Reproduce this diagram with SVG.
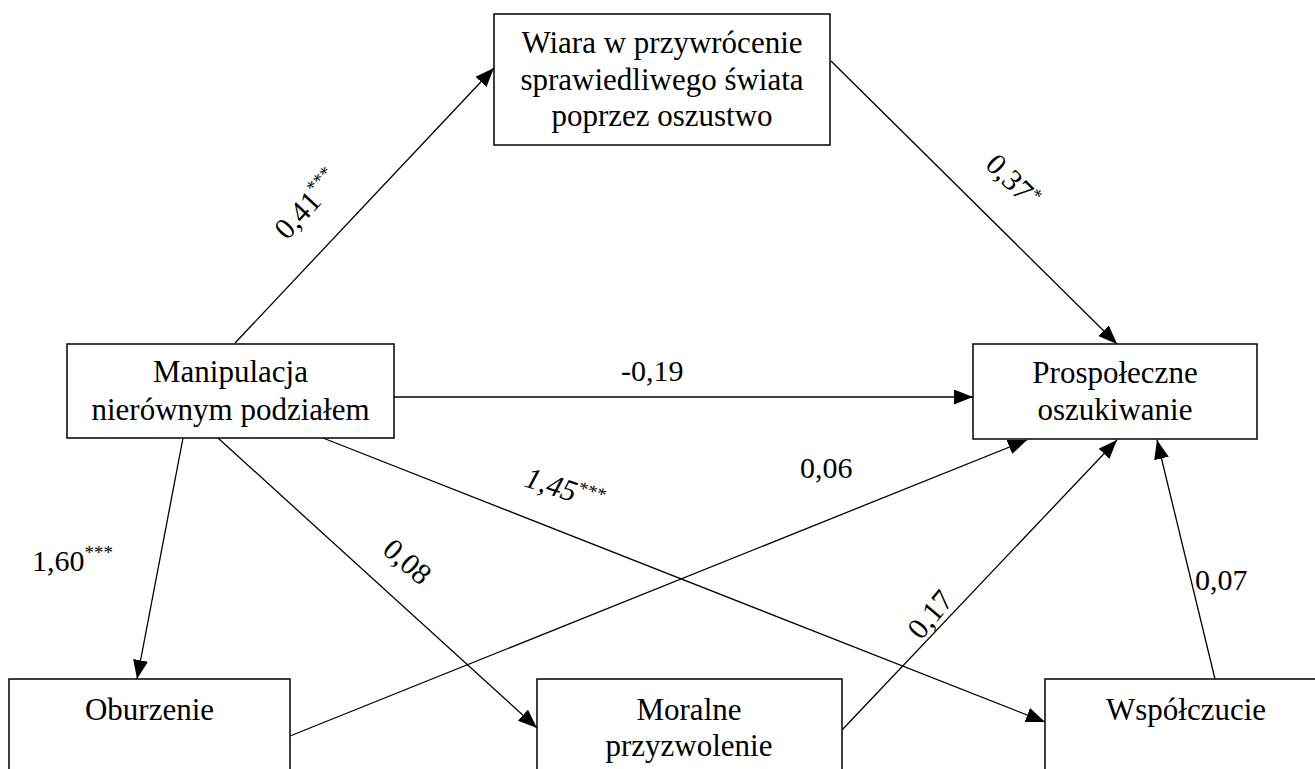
<svg xmlns="http://www.w3.org/2000/svg" width="1315" height="769" viewBox="0 0 1315 769" font-family="'Liberation Serif', 'Times New Roman', Times, serif">
<style>
text{font-family:'Liberation Serif','Times New Roman',Times,serif;fill:#000}
.box{fill:#fff;stroke:#000;stroke-width:1.5}
.nt{font-size:31px;text-anchor:middle}
.lb{font-size:30px}
.it{font-style:italic}
.sup{font-size:19px}
.cn{stroke:#000;stroke-width:1.3;fill:none;marker-end:url(#ah)}
</style>
<defs>
<marker id="ah" markerUnits="userSpaceOnUse" markerWidth="20" markerHeight="16" refX="19" refY="7.5" orient="auto">
<path d="M0,0 L19,7.5 L0,15 z" fill="#000"/>
</marker>
</defs>
<rect width="1315" height="769" fill="#fff"/>
<g id="connectors">
<line class="cn" x1="235" y1="343" x2="494" y2="68"/>
<line class="cn" x1="831" y1="61" x2="1117" y2="344"/>
<line class="cn" x1="394" y1="397" x2="973" y2="397"/>
<line class="cn" x1="183" y1="438" x2="137" y2="679"/>
<line class="cn" x1="218" y1="438" x2="537" y2="728"/>
<line class="cn" x1="323" y1="438" x2="1045" y2="722"/>
<line class="cn" x1="290" y1="736" x2="1027" y2="440"/>
<line class="cn" x1="842" y1="730" x2="1117" y2="440"/>
<line class="cn" x1="1215" y1="679" x2="1157" y2="440"/>
</g>
<g id="labels">
<text class="lb" font-family="Liberation Serif, serif" transform="translate(287,241) rotate(-47)">0,41<tspan class="sup" dy="-12">***</tspan></text>
<text class="lb" font-family="Liberation Serif, serif" transform="translate(984,166) rotate(45)">0,37<tspan class="sup" dy="-10">*</tspan></text>
<text class="lb" font-family="Liberation Serif, serif" x="621" y="381">-0,19</text>
<text class="lb" font-family="Liberation Serif, serif" x="32" y="571">1,60<tspan class="sup" dy="-12">***</tspan></text>
<text class="lb it" font-family="Liberation Serif, serif" transform="translate(523,486) rotate(18)">1,45<tspan class="sup" dy="-10">***</tspan></text>
<text class="lb" font-family="Liberation Serif, serif" transform="translate(381,552) rotate(41)">0,08</text>
<text class="lb" font-family="Liberation Serif, serif" x="800" y="478">0,06</text>
<text class="lb" font-family="Liberation Serif, serif" transform="translate(921,641) rotate(-50)">0,17</text>
<text class="lb" font-family="Liberation Serif, serif" x="1195" y="590">0,07</text>
</g>
<g id="node-wiara" font-family="Liberation Serif, serif">
<rect class="box" x="494" y="14" width="336" height="131"/>
<text class="nt" x="662" y="53">Wiara w przywrócenie</text>
<text class="nt" x="662" y="90">sprawiedliwego świata</text>
<text class="nt" x="662" y="126">poprzez oszustwo</text>
</g>
<g id="node-manipulacja" font-family="Liberation Serif, serif">
<rect class="box" x="67" y="344" width="327" height="94"/>
<text class="nt" x="230.5" y="382">Manipulacja</text>
<text class="nt" x="230.5" y="420">nierównym podziałem</text>
</g>
<g id="node-prospoleczne" font-family="Liberation Serif, serif">
<rect class="box" x="973" y="344" width="284" height="95"/>
<text class="nt" x="1115" y="383">Prospołeczne</text>
<text class="nt" x="1115" y="420">oszukiwanie</text>
</g>
<g id="node-oburzenie" font-family="Liberation Serif, serif">
<rect class="box" x="9" y="679" width="281" height="120"/>
<text class="nt" x="149.5" y="720">Oburzenie</text>
</g>
<g id="node-moralne" font-family="Liberation Serif, serif">
<rect class="box" x="537" y="679" width="305" height="120"/>
<text class="nt" x="689" y="720">Moralne</text>
<text class="nt" x="689" y="756">przyzwolenie</text>
</g>
<g id="node-wspolczucie" font-family="Liberation Serif, serif">
<rect class="box" x="1045" y="679" width="285" height="120"/>
<text class="nt" x="1186" y="720">Współczucie</text>
</g>
</svg>
